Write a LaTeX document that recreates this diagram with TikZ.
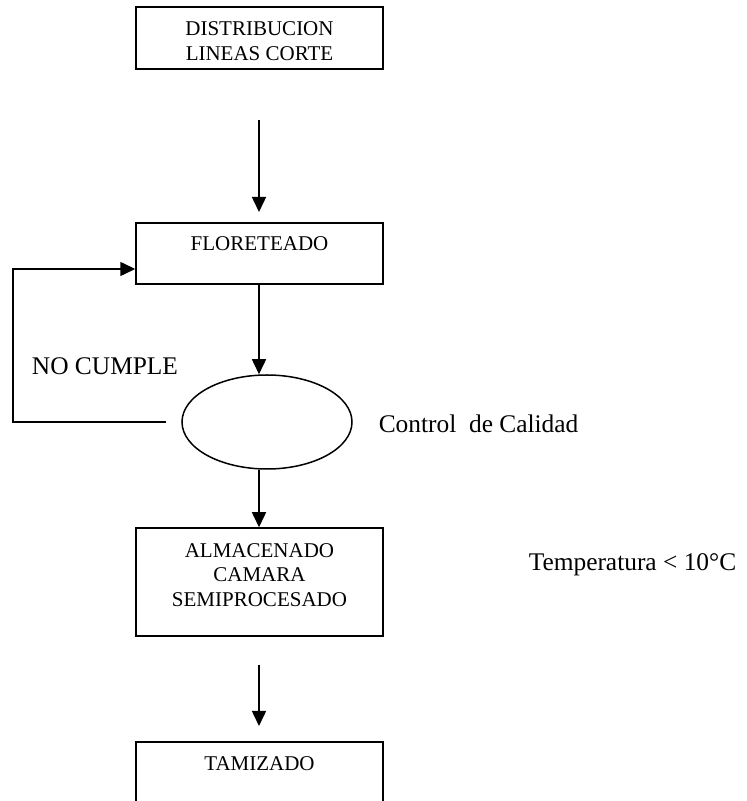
\documentclass[tikz,border=0pt]{standalone}
\usepackage{fontspec}
\setmainfont{Liberation Serif}
\usetikzlibrary{arrows.meta,shapes.geometric,calc}
\begin{document}
\begin{tikzpicture}[x=1pt,y=1pt,
  line width=1.5pt,
  stepbox/.style={draw,rectangle,minimum width=247pt,inner sep=0pt},
  boxtext/.style={font=\fontsize{21}{24.5}\selectfont,align=center,inner sep=0pt},
  bigtext/.style={font=\fontsize{25.4}{29}\selectfont,inner sep=0pt},
  arr/.style={-{Triangle[length=15pt,width=14pt]}}]
\useasboundingbox (0,0) rectangle (747,801);

% process boxes
\node[stepbox,minimum height=62pt] (dist) at (259.5,763) {};
\node[boxtext] (distT) at (259.5,760) {DISTRIBUCION\\LINEAS CORTE};

\node[stepbox,minimum height=61pt] (flor) at (259.5,547.5) {};
\node[boxtext] (florT) at (259.5,557) {FLORETEADO};

\node[draw,ellipse,minimum width=170pt,minimum height=94pt,inner sep=0pt] (ell) at (267,379) {};

\node[stepbox,minimum height=108pt] (alm) at (259.5,219) {};
\node[boxtext] (almT) at (259.5,226) {ALMACENADO\\CAMARA\\SEMIPROCESADO};

% last box, running off the bottom edge
\coordinate (tamL) at (136,0);
\coordinate (tamR) at (383,0);
\draw (tamL) -- (136,59) -- (383,59) -- (tamR);
\node[boxtext] (tamT) at (259.5,37) {TAMIZADO};

% connectors
\coordinate (a1s) at (259,681);
\coordinate (a1e) at (259,589);
\draw[arr] (a1s) -- (a1e);
\draw[arr] (flor.south -| a1s) -- (ell.north -| a1s);
\draw[arr] (ell.south -| a1s) -- (alm.north -| a1s);
\coordinate (a4s) at (259,136);
\coordinate (a4e) at (259,75);
\draw[arr] (a4s) -- (a4e);

% rejection loop
\coordinate (nc) at ($(ell.west)+(-15,0)$);
\draw[arr] (nc) -- (13,379) -- (13,532) -- ($(flor.west)+(0,-15.5)$);

% labels
\node[bigtext] (ncT) at (105,435) {NO CUMPLE};
\node[bigtext,anchor=west] (ccT) at (378,377) {Control~~de Calidad};
\node[bigtext,anchor=west] (tempT) at (528,236) {Temperatura < 10°C};
\end{tikzpicture}
\end{document}
